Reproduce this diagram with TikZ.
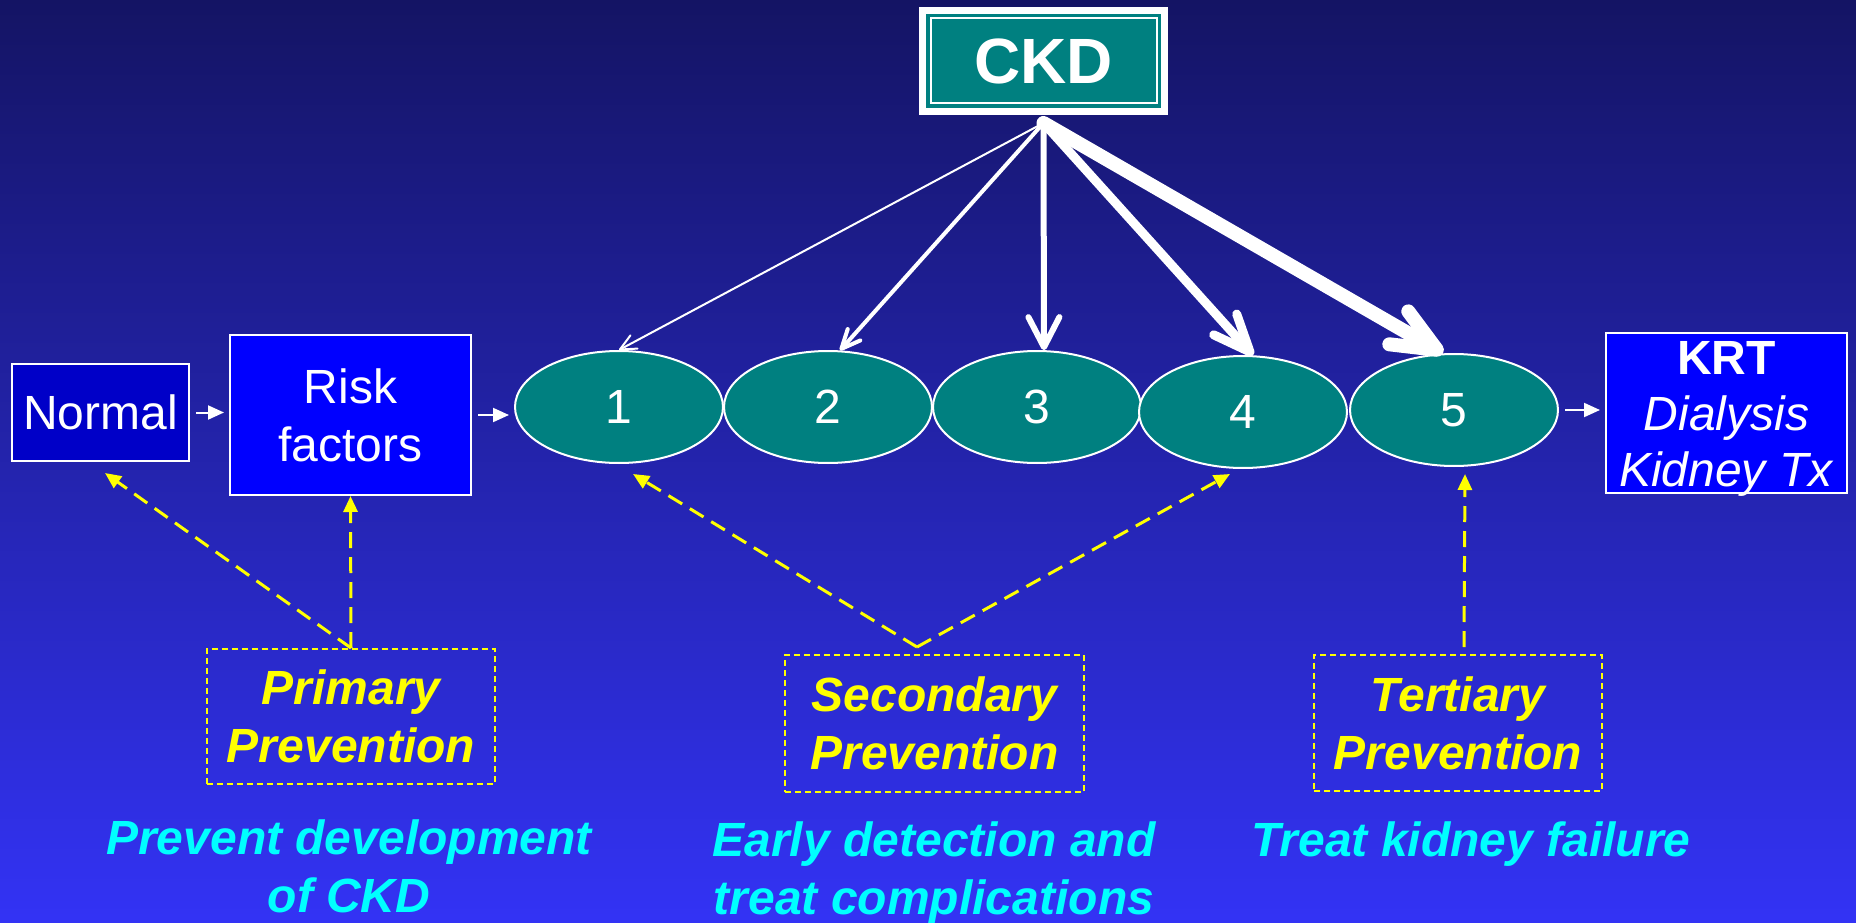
\documentclass[tikz,border=0pt]{standalone}
\usepackage{fontspec}
\setmainfont{Liberation Sans}
\usetikzlibrary{arrows.meta,shapes.geometric}

\definecolor{bgtop}{RGB}{20,20,100}
\definecolor{bgbottom}{RGB}{51,51,245}
\definecolor{stageteal}{RGB}{0,128,128}
\definecolor{normalblue}{RGB}{0,0,200}
\definecolor{riskblue}{RGB}{0,0,255}
\definecolor{goalcyan}{RGB}{0,255,255}
\definecolor{hintyellow}{RGB}{255,255,0}

\begin{document}
\begin{tikzpicture}[x=1pt,y=-1pt,font=\fontsize{48}{58}\selectfont,
    box/.style={draw=white,line width=2pt,text=white,align=center,inner sep=0pt},
    stage/.style={ellipse,draw=white,line width=2pt,fill=stageteal,text=white,
        minimum width=208pt,minimum height=112pt,inner sep=0pt},
    prevbox/.style={draw=hintyellow,line width=2pt,dash pattern=on 6pt off 4pt,text=hintyellow,
        align=center,inner sep=0pt,font=\fontsize{48}{58}\selectfont\bfseries\itshape},
    goal/.style={text=goalcyan,align=center,inner sep=0pt,
        font=\fontsize{48}{58}\selectfont\bfseries\itshape},
    flow/.style={white,line width=2pt,-{Triangle[length=16pt,width=14pt]},
        shorten <=6pt,shorten >=5pt},
    hint/.style={hintyellow,line width=3pt,dash pattern=on 16pt off 9pt,
        -{Triangle[length=16pt,width=14pt]}},
    load/.style n args={3}{white,line width=#1pt,line cap=round,
        -{Straight Barb[round,length=#2pt,width=#3pt]}}]

    % Background
    \useasboundingbox (0,0) rectangle (1856,923);
    \shade [top color=bgtop,bottom color=bgbottom] (0,0) rectangle (1856,923);

    % CKD box
    \node [fill=stageteal,draw=white,line width=7pt,outer sep=0pt,inner sep=0pt,
        minimum width=242pt,minimum height=101pt,text=white,
        font=\fontsize{64}{64}\selectfont\bfseries] (ckd) at (1043.5,61) {CKD};
    \draw [white,line width=2pt] ([shift={(8pt,-8pt)}]ckd.north west)
        rectangle ([shift={(-8pt,8pt)}]ckd.south east);

    % Boxes
    \node [box,fill=normalblue,minimum width=177pt,minimum height=97pt] (normal) at (100.5,412.5) {Normal};
    \node [box,fill=riskblue,minimum width=241pt,minimum height=160pt] (risk) at (350.5,415) {Risk\\factors};
    \node [box,fill=riskblue,minimum width=241pt,minimum height=160pt,
        label={[text=white,align=center,yshift=-6pt,inner sep=0pt,
            font=\fontsize{48}{56}\selectfont]center:{\textbf{KRT}\\\textit{Dialysis}\\\textit{Kidney Tx}}}]
        (krt) at (1726.5,413) {};

    % Stages
    \node [stage] (s1) at (619,407) {1};
    \node [stage] (s2) at (828,407) {2};
    \node [stage] (s3) at (1037,407) {3};
    \node [stage] (s4) at (1243,412) {4};
    \node [stage] (s5) at (1454,410) {5};

    % Flow arrows
    \draw [flow] (normal.east) -- (risk.west |- normal.east);
    \draw [flow] (risk.east) -- (s1.west |- risk.east);
    \draw [flow] (s5.east) -- (krt.west |- s5.east);

    % Arrows from CKD, thicker for later stages
    \coordinate (hub) at ([yshift=-11.5pt]ckd.south);
    \draw [load={2}{16}{15}] (hub) -- (s1.north);
    \draw [load={4}{19}{17}] (hub) -- (s2.78);
    \draw [load={6}{30}{31}] (hub) -- (s3.83);
    \draw [load={9}{37}{31}] (hub) -- (s4.80);
    \draw [load={14}{44}{38}] (hub) -- (s5.101);

    % Prevention boxes
    \node [prevbox,minimum width=288pt,minimum height=135pt] (prim) at (351,716.5) {Primary\\Prevention};
    \node [prevbox,minimum width=299pt,minimum height=137pt] (sec) at (934.5,723.5) {Secondary\\Prevention};
    \node [prevbox,minimum width=288pt,minimum height=136pt] (ter) at (1458,723) {Tertiary\\Prevention};

    % Dashed pointers
    \coordinate (normal-tip) at ([shift={(4.5pt,-11pt)}]normal.south);
    \coordinate (s1-tip) at ([shift={(14pt,-10pt)}]s1.south);
    \coordinate (s4-tip) at ([shift={(-13pt,-5pt)}]s4.south);
    \coordinate (s5-tip) at ([shift={(11pt,-7pt)}]s5.south);
    \coordinate (sec-apex) at ([shift={(-17.5pt,7pt)}]sec.north);
    \coordinate (ter-top) at ([shift={(6pt,7pt)}]ter.north);
    \draw [hint] (prim.north) -- (normal-tip);
    \draw [hint] (prim.north) -- (risk.south);
    \draw [hint] (sec-apex) -- (s1-tip);
    \draw [hint] (sec-apex) -- (s4-tip);
    \draw [hint] (ter-top) -- (s5-tip);

    % Goals
    \node [goal] (prim-goal) at (349,866.5) {Prevent development\\of CKD};
    \node [goal] (sec-goal) at (934,873) {Early detection and\\treat complications};
    \node [goal] (ter-goal) at (1471,844.5) {Treat kidney failure};

\end{tikzpicture}
\end{document}
